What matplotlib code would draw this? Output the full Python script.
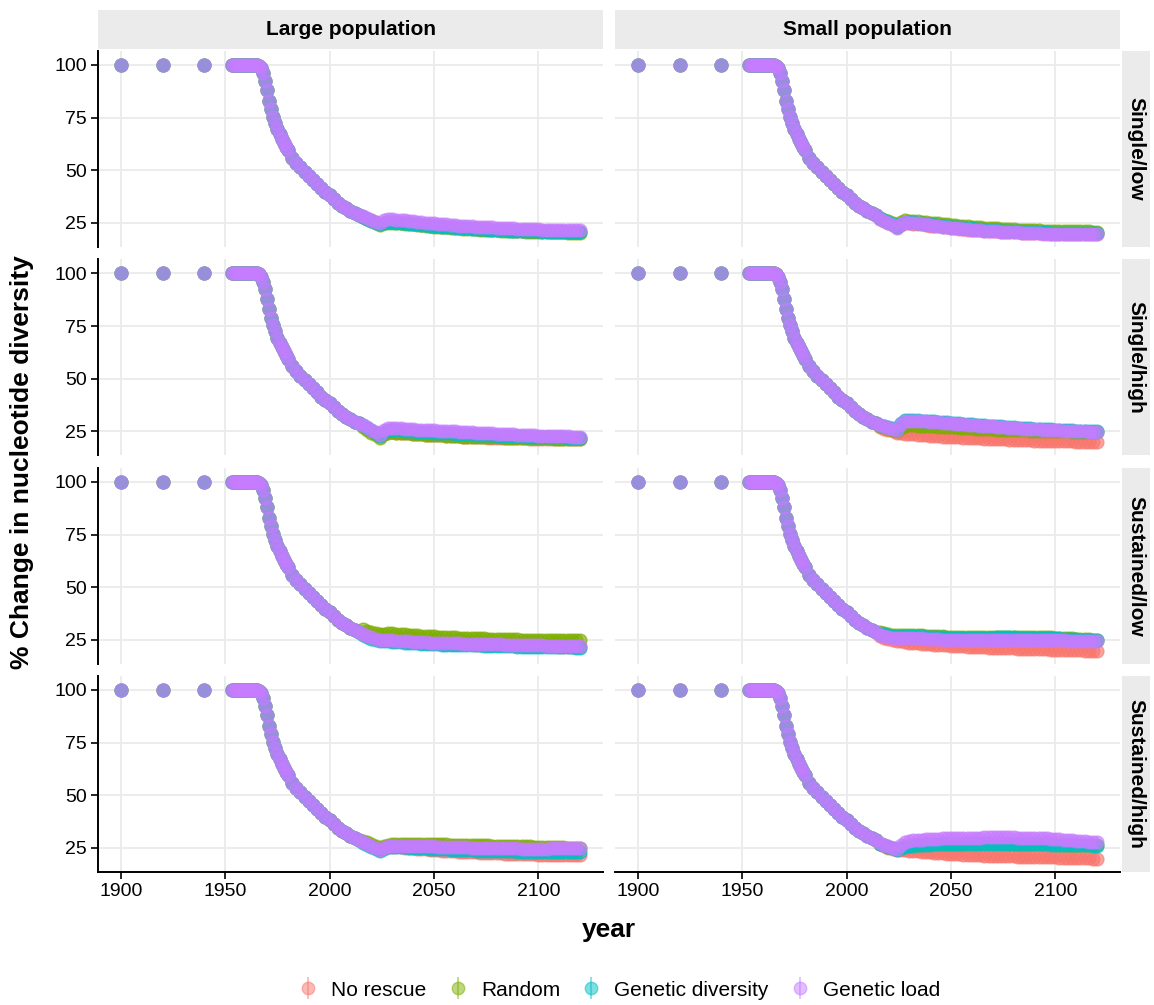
import matplotlib
matplotlib.use("Agg")
import matplotlib.pyplot as plt
from matplotlib.lines import Line2D
from matplotlib.legend_handler import HandlerTuple

plt.rcParams["font.family"] = ["Liberation Sans", "DejaVu Sans"]

# --- data ---------------------------------------------------------------------
# all scenarios share the same decline up to ~2014
early_years = [1900, 1920, 1940, 1953, 1954, 1955, 1956, 1957, 1958, 1959, 1960,
               1961, 1962, 1963, 1964, 1965, 1966, 1967, 1968, 1969, 1970, 1971,
               1972, 1973, 1974, 1975, 1976, 1977, 1978, 1979, 1980, 1982, 1984,
               1986, 1988, 1990, 1992, 1994, 1996, 1998, 2000, 2002, 2004, 2006,
               2008, 2010, 2012, 2014]
early_values = [100, 100, 100, 100, 100, 100, 100, 100, 100, 100, 100,
                100, 100, 100, 100, 100, 99.5, 98.5, 96, 92.5, 88, 83,
                79, 75.5, 72.5, 69.5, 67, 65, 63, 61.2, 59.5, 56, 53.5,
                51.5, 49.3, 47.5, 45.5, 43.5, 41.5, 39.8, 38.3, 36.5, 34.7, 33.2,
                32.0, 30.8, 29.7, 28.9]

# after 2014 the scenarios split, one value every 2 years
tail_years = list(range(2016, 2121, 2))

strategies = ["No rescue", "Random", "Genetic diversity", "Genetic load"]
colours = ["#F8766D", "#7CAE00", "#00BFC4", "#C77CFF"]
populations = ["Large population", "Small population"]
scenarios = ["Single/low", "Single/high", "Sustained/low", "Sustained/high"]

# each list: [no rescue, random, genetic diversity, genetic load]
large_single_low = [
    [28.0, 27.1, 26.2, 25.3, 24.6, 25.2, 25.6, 25.5, 25.3, 25.1, 25.0, 24.8, 24.6, 24.4,
     24.2, 24.0, 23.8, 23.6, 23.5, 23.3, 23.2, 23.0, 22.9, 22.7, 22.6, 22.5, 22.4, 22.3,
     22.2, 22.1, 22.0, 21.9, 21.8, 21.7, 21.6, 21.5, 21.4, 21.3, 21.3, 21.2, 21.2, 21.1,
     21.1, 21.0, 21.0, 20.9, 20.9, 20.8, 20.8, 20.7, 20.7, 20.6, 20.6],
    [27.6, 26.7, 25.8, 24.9, 24.2, 24.8, 25.2, 25.1, 25.0, 24.9, 24.7, 24.5, 24.3, 24.1,
     23.9, 23.7, 23.5, 23.3, 23.2, 23.0, 22.9, 22.7, 22.6, 22.4, 22.3, 22.2, 22.1, 22.0,
     21.9, 21.8, 21.7, 21.6, 21.5, 21.4, 21.3, 21.2, 21.1, 21.0, 21.0, 20.9, 20.9, 20.8,
     20.8, 20.7, 20.7, 20.6, 20.6, 20.5, 20.5, 20.4, 20.4, 20.3, 20.3],
    [27.8, 26.9, 26.0, 25.1, 24.4, 25.0, 25.5, 25.3, 25.2, 25.0, 24.9, 24.7, 24.5, 24.3,
     24.1, 23.9, 23.7, 23.5, 23.4, 23.2, 23.1, 22.9, 22.8, 22.6, 22.5, 22.4, 22.3, 22.2,
     22.1, 22.0, 21.9, 21.8, 21.7, 21.6, 21.5, 21.4, 21.3, 21.2, 21.2, 21.1, 21.1, 21.0,
     21.0, 20.9, 20.9, 20.8, 20.8, 20.7, 20.7, 20.6, 20.6, 20.5, 20.5],
    [28.2, 27.3, 26.5, 25.6, 25.0, 26.2, 26.8, 26.7, 26.6, 26.4, 26.2, 26.0, 25.8, 25.6,
     25.4, 25.2, 25.0, 24.8, 24.6, 24.4, 24.3, 24.1, 24.0, 23.8, 23.7, 23.5, 23.4, 23.3,
     23.2, 23.1, 23.0, 22.9, 22.8, 22.7, 22.6, 22.5, 22.4, 22.3, 22.2, 22.1, 22.1, 22.0,
     22.0, 21.9, 21.9, 21.8, 21.8, 21.7, 21.7, 21.6, 21.6, 21.5, 21.5],
]
large_single_high = [
    [27.8, 26.6, 25.4, 24.2, 23.0, 24.0, 24.6, 24.6, 24.5, 24.4, 24.2, 24.1, 23.9, 23.7,
     23.6, 23.5, 23.4, 23.3, 23.2, 23.1, 23.0, 22.9, 22.8, 22.7, 22.6, 22.5, 22.4, 22.3,
     22.2, 22.2, 22.1, 22.1, 22.0, 22.0, 21.9, 21.9, 21.8, 21.8, 21.7, 21.7, 21.6, 21.6,
     21.5, 21.5, 21.4, 21.4, 21.4, 21.4, 21.3, 21.3, 21.3, 21.2, 21.2],
    [27.0, 25.8, 24.5, 23.2, 22.0, 23.6, 24.5, 24.6, 24.5, 24.4, 24.2, 24.1, 23.9, 23.7,
     23.6, 23.5, 23.4, 23.3, 23.2, 23.1, 23.0, 22.9, 22.8, 22.7, 22.6, 22.6, 22.5, 22.5,
     22.4, 22.4, 22.3, 22.3, 22.2, 22.2, 22.1, 22.1, 22.0, 22.0, 21.9, 21.9, 21.8, 21.8,
     21.7, 21.7, 21.7, 21.7, 21.6, 21.6, 21.6, 21.6, 21.5, 21.5, 21.5],
    [28.0, 26.8, 25.6, 24.3, 23.0, 24.6, 25.5, 25.6, 25.6, 25.5, 25.4, 25.2, 25.1, 24.9,
     24.8, 24.7, 24.6, 24.5, 24.4, 24.3, 24.2, 24.1, 24.0, 23.9, 23.8, 23.7, 23.6, 23.5,
     23.4, 23.3, 23.2, 23.1, 23.0, 23.0, 22.9, 22.8, 22.8, 22.7, 22.7, 22.6, 22.6, 22.5,
     22.5, 22.4, 22.4, 22.3, 22.3, 22.2, 22.2, 22.1, 22.1, 22.0, 22.0],
    [28.0, 26.9, 25.8, 24.6, 23.5, 25.5, 26.5, 26.6, 26.6, 26.5, 26.4, 26.2, 26.1, 25.9,
     25.8, 25.7, 25.6, 25.5, 25.4, 25.3, 25.2, 25.1, 25.0, 24.9, 24.8, 24.7, 24.6, 24.5,
     24.4, 24.3, 24.2, 24.1, 24.0, 23.9, 23.8, 23.7, 23.6, 23.5, 23.4, 23.3, 23.2, 23.1,
     23.0, 23.0, 22.9, 22.9, 22.8, 22.8, 22.7, 22.7, 22.6, 22.6, 22.5],
]
large_sustained_low = [
    [28.0, 27.1, 26.2, 25.6, 25.0, 24.9, 24.8, 24.7, 24.6, 24.4, 24.3, 24.1, 24.0, 23.9,
     23.8, 23.7, 23.6, 23.5, 23.4, 23.3, 23.2, 23.1, 23.1, 23.0, 23.0, 22.9, 22.9, 22.8,
     22.8, 22.7, 22.7, 22.6, 22.6, 22.5, 22.5, 22.4, 22.4, 22.3, 22.3, 22.2, 22.2, 22.1,
     22.1, 22.0, 22.0, 22.0, 22.0, 21.9, 21.9, 21.9, 21.9, 21.8, 21.8],
    [30.0, 29.4, 28.8, 28.3, 27.8, 28.0, 28.2, 28.1, 28.0, 27.8, 27.7, 27.5, 27.4, 27.2,
     27.1, 26.9, 26.8, 26.7, 26.6, 26.5, 26.4, 26.3, 26.2, 26.1, 26.0, 25.9, 25.8, 25.8,
     25.7, 25.7, 25.6, 25.6, 25.5, 25.5, 25.4, 25.4, 25.3, 25.3, 25.2, 25.2, 25.1, 25.1,
     25.0, 25.0, 25.0, 25.0, 24.9, 24.9, 24.9, 24.9, 24.8, 24.8, 24.8],
    [27.5, 26.5, 25.6, 25.0, 24.4, 24.3, 24.3, 24.2, 24.1, 23.9, 23.8, 23.6, 23.5, 23.4,
     23.3, 23.2, 23.1, 23.0, 22.9, 22.8, 22.8, 22.7, 22.7, 22.6, 22.6, 22.5, 22.5, 22.4,
     22.4, 22.3, 22.3, 22.2, 22.2, 22.1, 22.1, 22.0, 22.0, 21.9, 21.9, 21.8, 21.8, 21.7,
     21.7, 21.6, 21.6, 21.6, 21.6, 21.5, 21.5, 21.5, 21.5, 21.4, 21.4],
    [28.0, 27.1, 26.2, 25.6, 25.0, 25.0, 24.9, 24.8, 24.7, 24.6, 24.4, 24.3, 24.2, 24.1,
     24.0, 23.9, 23.8, 23.7, 23.6, 23.6, 23.5, 23.5, 23.4, 23.4, 23.3, 23.3, 23.2, 23.2,
     23.1, 23.1, 23.0, 23.0, 22.9, 22.9, 22.8, 22.8, 22.7, 22.7, 22.6, 22.6, 22.5, 22.5,
     22.4, 22.4, 22.3, 22.3, 22.3, 22.3, 22.2, 22.2, 22.2, 22.1, 22.1],
]
large_sustained_high = [
    [28.0, 27.0, 26.0, 25.1, 24.2, 25.0, 25.5, 25.5, 25.4, 25.3, 25.1, 25.0, 24.8, 24.7,
     24.5, 24.4, 24.2, 24.1, 23.9, 23.8, 23.6, 23.5, 23.4, 23.3, 23.2, 23.1, 23.0, 22.9,
     22.8, 22.7, 22.6, 22.5, 22.4, 22.4, 22.3, 22.3, 22.2, 22.2, 22.1, 22.1, 22.0, 22.0,
     21.9, 21.9, 21.8, 21.8, 21.7, 21.7, 21.6, 21.6, 21.5, 21.5, 21.5],
    [28.5, 27.6, 26.8, 25.9, 25.0, 26.0, 26.6, 26.7, 26.8, 26.9, 26.9, 27.0, 26.9, 26.9,
     26.9, 26.8, 26.8, 26.8, 26.8, 26.7, 26.7, 26.6, 26.6, 26.5, 26.5, 26.4, 26.4, 26.3,
     26.3, 26.2, 26.2, 26.1, 26.1, 26.0, 26.0, 25.9, 25.9, 25.8, 25.8, 25.7, 25.7, 25.6,
     25.6, 25.5, 25.5, 25.4, 25.4, 25.3, 25.3, 25.2, 25.2, 25.2, 25.2],
    [27.5, 26.5, 25.5, 24.6, 23.8, 24.7, 25.3, 25.4, 25.4, 25.4, 25.3, 25.2, 25.1, 25.0,
     24.9, 24.8, 24.7, 24.6, 24.5, 24.4, 24.3, 24.2, 24.1, 24.0, 24.0, 23.9, 23.9, 23.8,
     23.8, 23.7, 23.7, 23.6, 23.6, 23.5, 23.5, 23.4, 23.4, 23.3, 23.3, 23.3, 23.3, 23.2,
     23.2, 23.2, 23.2, 23.1, 23.1, 23.1, 23.1, 23.0, 23.0, 23.0, 23.0],
    [28.0, 27.0, 26.0, 25.1, 24.2, 25.2, 25.8, 25.9, 26.0, 26.0, 26.0, 26.0, 25.9, 25.9,
     25.8, 25.8, 25.7, 25.7, 25.6, 25.6, 25.5, 25.5, 25.4, 25.4, 25.3, 25.3, 25.2, 25.2,
     25.1, 25.1, 25.0, 25.0, 24.9, 24.9, 24.8, 24.8, 24.8, 24.8, 24.7, 24.7, 24.7, 24.7,
     24.7, 24.7, 24.7, 24.8, 24.8, 24.8, 24.8, 24.9, 24.9, 25.0, 25.0],
]
small_single_low = [
    [27.0, 26.0, 25.0, 24.0, 23.0, 24.2, 25.0, 24.9, 24.7, 24.5, 24.3, 24.0, 23.8, 23.6,
     23.4, 23.1, 22.9, 22.7, 22.5, 22.3, 22.1, 21.9, 21.8, 21.6, 21.5, 21.3, 21.2, 21.1,
     21.0, 20.9, 20.8, 20.7, 20.6, 20.5, 20.4, 20.3, 20.3, 20.2, 20.2, 20.1, 20.1, 20.0,
     20.0, 19.9, 19.9, 19.8, 19.8, 19.8, 19.8, 19.7, 19.7, 19.7, 19.7],
    [27.5, 26.6, 25.8, 24.9, 24.0, 25.4, 26.2, 26.1, 26.0, 25.8, 25.6, 25.4, 25.2, 25.0,
     24.8, 24.6, 24.4, 24.2, 24.0, 23.8, 23.6, 23.4, 23.3, 23.1, 23.0, 22.8, 22.7, 22.5,
     22.4, 22.3, 22.2, 22.1, 22.0, 21.9, 21.8, 21.7, 21.6, 21.5, 21.5, 21.4, 21.4, 21.3,
     21.3, 21.2, 21.2, 21.1, 21.1, 21.0, 21.0, 21.0, 21.0, 20.9, 20.9],
    [27.2, 26.2, 25.3, 24.3, 23.3, 24.7, 25.6, 25.5, 25.4, 25.2, 24.9, 24.7, 24.4, 24.2,
     24.0, 23.7, 23.5, 23.3, 23.1, 22.9, 22.7, 22.5, 22.4, 22.2, 22.1, 21.9, 21.8, 21.6,
     21.5, 21.4, 21.3, 21.2, 21.1, 21.0, 20.9, 20.8, 20.7, 20.6, 20.6, 20.5, 20.5, 20.4,
     20.4, 20.3, 20.3, 20.2, 20.2, 20.2, 20.2, 20.1, 20.1, 20.1, 20.1],
    [27.0, 26.0, 25.0, 23.9, 22.8, 24.3, 25.3, 25.2, 25.0, 24.8, 24.5, 24.3, 24.0, 23.8,
     23.5, 23.3, 23.0, 22.8, 22.6, 22.4, 22.2, 22.0, 21.9, 21.7, 21.6, 21.4, 21.3, 21.1,
     21.0, 20.9, 20.8, 20.7, 20.6, 20.5, 20.4, 20.3, 20.2, 20.1, 20.1, 20.0, 20.0, 19.9,
     19.9, 19.8, 19.8, 19.7, 19.7, 19.7, 19.7, 19.6, 19.6, 19.6, 19.6],
]
small_single_high = [
    [27.0, 26.2, 25.5, 25.0, 24.5, 24.2, 24.0, 23.8, 23.6, 23.4, 23.3, 23.1, 23.0, 22.8,
     22.7, 22.6, 22.5, 22.4, 22.3, 22.2, 22.1, 22.0, 21.9, 21.8, 21.7, 21.6, 21.5, 21.4,
     21.3, 21.2, 21.2, 21.1, 21.0, 20.9, 20.9, 20.8, 20.8, 20.7, 20.7, 20.6, 20.6, 20.5,
     20.5, 20.4, 20.4, 20.3, 20.3, 20.2, 20.2, 20.1, 20.1, 20.0, 20.0],
    [27.5, 26.9, 26.3, 25.8, 25.3, 26.8, 27.8, 27.9, 27.9, 27.8, 27.7, 27.6, 27.5, 27.4,
     27.3, 27.2, 27.1, 27.0, 26.9, 26.8, 26.7, 26.6, 26.5, 26.4, 26.3, 26.2, 26.1, 26.0,
     25.9, 25.8, 25.7, 25.7, 25.6, 25.6, 25.5, 25.5, 25.4, 25.4, 25.3, 25.3, 25.2, 25.2,
     25.1, 25.1, 25.0, 25.0, 24.9, 24.9, 24.8, 24.8, 24.7, 24.7, 24.6],
    [28.0, 27.5, 27.0, 26.5, 26.0, 28.8, 30.4, 30.5, 30.5, 30.4, 30.2, 30.1, 29.9, 29.8,
     29.6, 29.5, 29.3, 29.2, 29.0, 28.9, 28.7, 28.6, 28.4, 28.3, 28.1, 28.0, 27.8, 27.7,
     27.5, 27.4, 27.2, 27.1, 26.9, 26.8, 26.7, 26.6, 26.5, 26.4, 26.3, 26.2, 26.1, 26.0,
     25.9, 25.8, 25.7, 25.6, 25.5, 25.4, 25.3, 25.2, 25.1, 25.1, 25.0],
    [28.0, 27.4, 26.8, 26.3, 25.8, 28.4, 30.0, 30.1, 30.2, 30.1, 29.9, 29.8, 29.6, 29.5,
     29.3, 29.2, 29.0, 28.9, 28.7, 28.6, 28.4, 28.3, 28.1, 28.0, 27.8, 27.7, 27.5, 27.4,
     27.2, 27.1, 26.9, 26.8, 26.6, 26.5, 26.4, 26.3, 26.2, 26.1, 26.0, 25.9, 25.8, 25.7,
     25.6, 25.5, 25.4, 25.3, 25.2, 25.1, 25.0, 25.0, 24.9, 24.9, 24.8],
]
small_sustained_low = [
    [26.8, 26.1, 25.5, 25.0, 24.6, 24.3, 24.0, 23.8, 23.6, 23.4, 23.3, 23.1, 23.0, 22.8,
     22.7, 22.5, 22.4, 22.3, 22.2, 22.1, 22.0, 21.9, 21.8, 21.7, 21.6, 21.5, 21.4, 21.3,
     21.2, 21.1, 21.1, 21.0, 21.0, 20.9, 20.8, 20.7, 20.7, 20.6, 20.6, 20.5, 20.5, 20.4,
     20.4, 20.3, 20.3, 20.2, 20.2, 20.1, 20.1, 20.0, 20.0, 19.9, 19.9],
    [28.7, 28.2, 27.8, 27.5, 27.2, 27.2, 27.3, 27.4, 27.4, 27.3, 27.2, 27.1, 27.0, 26.9,
     26.8, 26.7, 26.6, 26.5, 26.5, 26.4, 26.4, 26.4, 26.4, 26.5, 26.5, 26.5, 26.5, 26.6,
     26.6, 26.6, 26.6, 26.6, 26.6, 26.5, 26.5, 26.5, 26.5, 26.4, 26.4, 26.3, 26.3, 26.2,
     26.1, 26.0, 25.9, 25.8, 25.7, 25.6, 25.5, 25.4, 25.3, 25.2, 25.1],
    [28.0, 27.6, 27.2, 26.9, 26.6, 26.7, 26.8, 26.9, 26.9, 26.8, 26.7, 26.6, 26.5, 26.4,
     26.3, 26.2, 26.1, 26.0, 26.0, 25.9, 25.9, 25.9, 25.9, 26.0, 26.0, 26.0, 26.1, 26.1,
     26.2, 26.2, 26.2, 26.2, 26.2, 26.1, 26.1, 26.1, 26.1, 26.0, 26.0, 25.9, 25.9, 25.8,
     25.8, 25.7, 25.6, 25.5, 25.4, 25.3, 25.2, 25.1, 25.0, 24.9, 24.8],
    [27.3, 26.8, 26.3, 26.0, 25.7, 25.9, 26.0, 26.0, 26.0, 25.9, 25.8, 25.6, 25.5, 25.4,
     25.3, 25.2, 25.1, 25.0, 25.0, 25.0, 25.0, 25.0, 25.1, 25.1, 25.1, 25.1, 25.1, 25.2,
     25.2, 25.2, 25.2, 25.2, 25.2, 25.1, 25.1, 25.1, 25.1, 25.0, 25.0, 25.0, 25.0, 24.9,
     24.9, 24.8, 24.8, 24.7, 24.7, 24.6, 24.6, 24.5, 24.5, 24.4, 24.3],
]
small_sustained_high = [
    [26.8, 26.0, 25.2, 24.6, 24.0, 24.0, 24.0, 23.8, 23.6, 23.4, 23.2, 23.0, 22.9, 22.7,
     22.6, 22.4, 22.3, 22.2, 22.1, 22.0, 21.9, 21.8, 21.7, 21.6, 21.5, 21.4, 21.4, 21.3,
     21.2, 21.1, 21.1, 21.0, 21.0, 20.9, 20.9, 20.8, 20.8, 20.7, 20.7, 20.6, 20.6, 20.5,
     20.5, 20.4, 20.4, 20.3, 20.3, 20.2, 20.2, 20.1, 20.1, 20.0, 20.0],
    [27.0, 26.2, 25.5, 24.9, 24.3, 25.2, 25.8, 26.1, 26.3, 26.5, 26.6, 26.7, 26.8, 26.9,
     26.9, 27.0, 27.0, 27.1, 27.1, 27.1, 27.1, 27.2, 27.2, 27.2, 27.2, 27.2, 27.2, 27.2,
     27.2, 27.2, 27.2, 27.1, 27.1, 27.1, 27.1, 27.0, 27.0, 26.9, 26.9, 26.8, 26.8, 26.7,
     26.7, 26.6, 26.6, 26.5, 26.5, 26.4, 26.4, 26.3, 26.3, 26.2, 26.2],
    [27.0, 26.2, 25.5, 24.8, 24.2, 25.0, 25.6, 25.9, 26.1, 26.3, 26.4, 26.5, 26.6, 26.7,
     26.8, 26.9, 26.9, 27.0, 27.0, 27.0, 27.0, 27.1, 27.1, 27.1, 27.1, 27.1, 27.1, 27.1,
     27.1, 27.1, 27.1, 27.0, 27.0, 27.0, 27.0, 26.9, 26.9, 26.8, 26.8, 26.7, 26.7, 26.6,
     26.6, 26.5, 26.5, 26.4, 26.4, 26.3, 26.3, 26.2, 26.2, 26.1, 26.1],
    [27.5, 26.6, 25.8, 25.1, 24.5, 26.5, 27.8, 28.3, 28.6, 28.8, 28.9, 29.1, 29.2, 29.3,
     29.4, 29.5, 29.6, 29.7, 29.7, 29.8, 29.8, 29.9, 29.9, 29.9, 29.9, 30.0, 30.0, 30.0,
     30.0, 30.0, 30.0, 30.0, 30.0, 29.9, 29.9, 29.8, 29.8, 29.7, 29.7, 29.6, 29.5, 29.4,
     29.2, 29.1, 28.9, 28.8, 28.6, 28.4, 28.2, 28.1, 27.9, 27.8, 27.6],
]

tails = {
    ("Large population", "Single/low"): large_single_low,
    ("Large population", "Single/high"): large_single_high,
    ("Large population", "Sustained/low"): large_sustained_low,
    ("Large population", "Sustained/high"): large_sustained_high,
    ("Small population", "Single/low"): small_single_low,
    ("Small population", "Single/high"): small_single_high,
    ("Small population", "Sustained/low"): small_sustained_low,
    ("Small population", "Sustained/high"): small_sustained_high,
}
for key, series in tails.items():
    for s in series:
        assert len(s) == len(tail_years), (key, len(s))

# --- layout (pixels of the 1154x1005 figure) ------------------------------------
W, H = 1154, 1005
fig = plt.figure(figsize=(W / 100, H / 100), dpi=100)


def rect(x0, y0, w, h):
    return [x0 / W, 1 - (y0 + h) / H, w / W, h / H]


col_x = [98, 615]
row_y = [51, 259.5, 468, 676]
pw, ph = 505, 196
grid_col = "#EBEBEB"
strip_col = "#EBEBEB"

for c, pop in enumerate(populations):
    for r, scen in enumerate(scenarios):
        ax = fig.add_axes(rect(col_x[c], row_y[r], pw, ph))
        for i, name in enumerate(strategies):
            xs = early_years + tail_years
            ys = early_values + tails[(pop, scen)][i]
            ax.scatter(xs, ys, s=85, color=colours[i], alpha=0.65,
                       edgecolors=colours[i], linewidths=1.0, zorder=3)
        ax.set_xlim(1889, 2131)
        ax.set_ylim(13.6, 106.6)
        ax.set_xticks([1900, 1950, 2000, 2050, 2100])
        ax.set_yticks([25, 50, 75, 100])
        ax.grid(color=grid_col, lw=1.3)
        ax.set_axisbelow(True)
        for side in ["top", "right", "left", "bottom"]:
            ax.spines[side].set_visible(False)
        ax.tick_params(length=5, width=1.2, labelsize=14, color="black", pad=3)
        if c == 0:
            ax.spines["left"].set_visible(True)
            ax.spines["left"].set_linewidth(1.4)
        else:
            ax.tick_params(left=False, labelleft=False)
        if r == 3:
            ax.spines["bottom"].set_visible(True)
            ax.spines["bottom"].set_linewidth(1.4)
        else:
            ax.tick_params(bottom=False, labelbottom=False)

        # row strips on the right
        if c == 1:
            sax = fig.add_axes(rect(1122, row_y[r], 28, ph))
            sax.set_facecolor(strip_col)
            sax.set_xticks([])
            sax.set_yticks([])
            for sp in sax.spines.values():
                sp.set_visible(False)
            sax.text(0.5, 0.5, scen, rotation=-90, ha="center", va="center",
                     fontsize=15, fontweight="bold", transform=sax.transAxes)

    # column strips on top
    tax = fig.add_axes(rect(col_x[c], 10, pw, 39))
    tax.set_facecolor(strip_col)
    tax.set_xticks([])
    tax.set_yticks([])
    for sp in tax.spines.values():
        sp.set_visible(False)
    tax.text(0.5, 0.5, pop, ha="center", va="center", fontsize=15,
             fontweight="bold", transform=tax.transAxes)

fig.text(22 / W, 1 - 462 / H, "% Change in nucleotide diversity", rotation=90,
         ha="center", va="center", fontsize=19, fontweight="bold")
fig.text(609 / W, 1 - 930 / H, "year", ha="center", va="center",
         fontsize=19, fontweight="bold")

handles = []
for col in colours:
    bar = Line2D([], [], color=col, alpha=0.5, marker="|", markersize=16,
                 markeredgewidth=1.3, linestyle="None")
    dot = Line2D([], [], color=col, alpha=0.5, marker="o", markersize=9,
                 linestyle="None")
    handles.append((bar, dot))
fig.legend(handles, strategies, loc="center", bbox_to_anchor=(618 / W, 1 - 990 / H),
           ncol=4, frameon=False, fontsize=15, handlelength=1.2,
           handletextpad=0.5, columnspacing=0.9,
           handler_map={tuple: HandlerTuple(ndivide=1)})

fig.savefig("out.png", dpi=100)
